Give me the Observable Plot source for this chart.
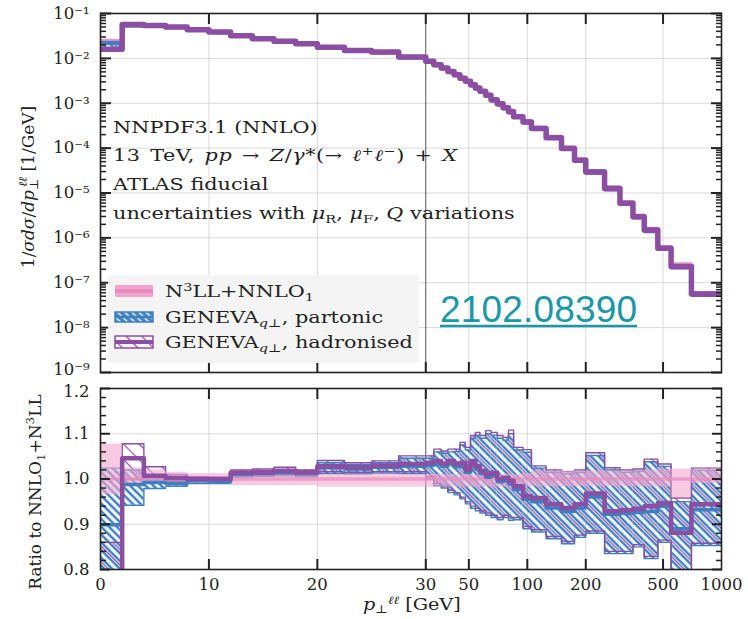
<!DOCTYPE html>
<html><head><meta charset="utf-8">
<script src="https://cdn.jsdelivr.net/npm/d3@7"></script>
<script src="https://cdn.jsdelivr.net/npm/@observablehq/plot@0.6"></script>
<style>
body{margin:0;background:#fff;}
#wrap{position:relative;width:748px;height:619px;overflow:hidden;background:#fff}
#wrap > svg{position:absolute;left:0;}
</style></head><body><div id="wrap"></div>
<script>
// ---------------- data ----------------
const edges = [0,2,4,6,8,10,12,14,16,18,20,22.5,25,27.5,30,33,36,39,42,45,48,51,54,57,61,65,70,75,80,85,95,105,125,150,175,200,250,300,350,400,470,550,700,1000];
// 1/sigma dsigma/dpT (GENEVA hadronised, top panel)
const dist = [0.016,0.057,0.054,0.050,0.0435,0.0385,0.032,0.0274,0.024,0.0212,0.0178,0.0150,0.0138,0.0107,
  0.00858,0.0072,0.0061,0.0051,0.0043,0.0036,0.0031,0.0026,0.0022,0.00185,0.0015,0.0012,0.00097,0.00079,0.00065,
  0.0005,0.00038,0.000275,0.00017,0.000098,0.000054,0.0000295,0.0000126,0.0000059,0.00000295,0.0000015,0.00000059,0.00000023,0.000000056];
// ratio to N3LL+NNLO1 : hadronised
const purC  = [0.65,1.046,1.007,1.002,1.0,1.0,1.014,1.015,1.018,1.015,1.028,1.026,1.03,1.033,
  1.036,1.04,1.034,1.04,1.033,1.036,1.021,1.04,1.029,1.018,1.01,1.014,1.0,1.003,0.996,0.984,0.962,
  0.958,0.944,0.936,0.944,0.968,0.929,0.931,0.934,0.94,0.947,0.881,0.944];
const purLo = [0.6,1.0,0.995,0.995,0.996,0.995,1.008,1.008,1.01,1.008,1.016,1.015,1.016,1.016,
  1.005,0.99,0.985,0.975,0.97,0.96,0.95,0.94,0.935,0.93,0.925,0.92,0.915,0.92,0.914,0.915,0.895,
  0.888,0.873,0.862,0.876,0.885,0.84,0.84,0.855,0.829,0.865,0.79,0.858];
const purHi = [0.86,1.078,1.027,1.01,1.005,1.004,1.02,1.022,1.026,1.02,1.041,1.036,1.04,1.051,
  1.051,1.066,1.062,1.066,1.066,1.081,1.07,1.096,1.103,1.096,1.107,1.103,1.096,1.092,1.108,1.07,1.065,
  1.029,1.02,1.016,1.02,1.058,1.025,1.02,1.022,1.044,1.033,0.958,1.024];
// ratio : partonic
const blueC  = [0.899,0.988,0.992,0.99,0.996,0.994,1.01,1.012,1.014,1.012,1.025,1.022,1.026,1.028,
  1.03,1.033,1.028,1.033,1.027,1.03,1.015,1.033,1.022,1.012,1.004,1.007,0.994,0.996,0.989,0.977,0.955,
  0.95,0.936,0.928,0.936,0.96,0.922,0.924,0.926,0.928,0.94,0.89,0.932];
const blueLo = [0.6,0.942,0.979,0.984,0.99,0.99,1.004,1.006,1.007,1.005,1.012,1.011,1.013,1.012,
  1.0,0.985,0.98,0.97,0.965,0.956,0.945,0.935,0.93,0.925,0.92,0.915,0.91,0.915,0.909,0.91,0.89,
  0.883,0.868,0.857,0.871,0.88,0.835,0.835,0.85,0.824,0.86,0.79,0.853];
const blueHi = [1.024,1.02,1.0,0.996,1.0,0.999,1.016,1.018,1.02,1.018,1.036,1.032,1.036,1.046,
  1.046,1.06,1.057,1.06,1.061,1.075,1.064,1.09,1.097,1.09,1.1,1.097,1.09,1.086,1.1,1.064,1.059,
  1.024,1.015,1.011,1.015,1.052,1.02,1.015,1.017,1.038,1.028,0.95,1.019];
// ratio : N3LL+NNLO1 band
const pinkLo = [0.965,0.99,0.99,0.99,0.99,0.99,0.985,0.985,0.985,0.985,0.982,0.982,0.982,0.982,
  0.982,0.982,0.982,0.982,0.982,0.982,0.982,0.982,0.982,0.982,0.982,0.982,0.982,0.982,0.982,0.982,0.982,
  0.983,0.983,0.983,0.983,0.983,0.983,0.983,0.983,0.983,0.982,0.958,0.99];
const pinkHi = [1.077,1.025,1.02,1.015,1.012,1.012,1.012,1.012,1.012,1.012,1.01,1.01,1.01,1.01,
  1.01,1.01,1.01,1.01,1.01,1.01,1.01,1.01,1.01,1.01,1.01,1.01,1.01,1.01,1.01,1.01,1.012,
  1.018,1.018,1.018,1.018,1.018,1.018,1.018,1.018,1.02,1.022,1.022,1.022];

const xTickVals = [0,10,20,30,50,100,200,500,1000];
const xTickLabels = ["0","10","20","30","50","100","200","500","1000"];
const yExps = [-9,-8,-7,-6,-5,-4,-3,-2,-1];
const yTickLabels = ["10⁻⁹","10⁻⁸","10⁻⁷","10⁻⁶","10⁻⁵","10⁻⁴","10⁻³","10⁻²","10⁻¹"];
const rTickVals = [0.8,0.9,1.0,1.1,1.2];
const rTickLabels = ["0.8","0.9","1.0","1.1","1.2"];

// ---------------- styles ----------------
const PURPLE = "#8c4ea3", BLUE = "#3d7fbf", PINK = "#f2a6cf", PINKD = "#e98bbf";
const FRAME = "#222", GRID = "#d9d9d9";
const FONT = "DejaVu Serif";

// piecewise x: linear 0-30, log 30-1000
const K = 17.91;
const U = p => p <= 30 ? p : 30 + K * Math.log10(p / 30);
const UMAX = U(1000);

const bins = dist.map((v, i) => ({lo: edges[i], hi: edges[i+1], v,
  pc: purC[i], pl: purLo[i], ph: purHi[i], bc: blueC[i], bl: blueLo[i], bh: blueHi[i], kl: pinkLo[i], kh: pinkHi[i]}));
bins.forEach(d => d.ref = d.v / d.pc);
function steps(acc) {
  const pts = bins.map(d => ({x: U(d.lo), y: acc(d)}));
  pts.push({x: U(edges[edges.length - 1]), y: acc(bins[bins.length - 1])});
  return pts;
}
const decades = yExps.map(e => Math.pow(10, e));
const yLab = new Map(decades.map((d, i) => [d, yTickLabels[i]]));
const minorY = [];
yExps.slice(0, -1).forEach(e => { for (let m = 2; m <= 9; m++) minorY.push(m * Math.pow(10, e)); });
const xInner = xTickVals.slice(1, -1).map(U);
const xGrid = [10, 20, 50, 100, 200, 500].map(U);
const xLab = new Map(xTickVals.map((v, i) => [U(v), xTickLabels[i]]));
const rMinor = d3.range(0.82, 1.2, 0.02).filter(v => Math.abs(v*10 - Math.round(v*10)) > 0.01);
const rLab = new Map(rTickVals.map((v, i) => [v, rTickLabels[i]]));

const wrap = document.getElementById("wrap");

// overlay svg with pattern defs
const ov = d3.create("svg").attr("width", 748).attr("height", 619).style("top", "0px")
  .style("pointer-events", "none").attr("font-family", FONT).attr("fill", "#222");
const defs = ov.append("defs");
function hatch(id, color, size, w, bg) {
  const p = defs.append("pattern").attr("id", id).attr("patternUnits", "userSpaceOnUse")
    .attr("width", size).attr("height", size).attr("patternTransform", "rotate(-45)");
  if (bg) p.append("rect").attr("width", size).attr("height", size).attr("fill", bg);
  p.append("line").attr("x1", size / 2).attr("y1", 0).attr("x2", size / 2).attr("y2", size)
    .attr("stroke", color).attr("stroke-width", w);
}
hatch("hatchBlue", BLUE, 5.5, 2.5);
hatch("hatchPurple", PURPLE, 11, 1.2);
hatch("hatchWhite", "#fff", 5, 1.5, BLUE);

const common = {fontFamily: FONT, fontSize: "17px", color: "#222", background: "transparent", overflow: "visible"};
const tk = {stroke: FRAME, strokeWidth: 2, label: null, tickFormat: () => ""};
const lab = {label: null};

function bandMarks(sy, wP, wB) {
  const X = {x1: d => U(d.lo), x2: d => U(d.hi)};
  const st = (acc, stroke, w, extra = {}) => Plot.line(steps(acc), {x: "x", y: "y", curve: "step-after", stroke, strokeWidth: w, clip: true, ...extra});
  return [
    Plot.rect(bins, {...X, y1: d => sy(d, d.bl), y2: d => sy(d, d.bh), fill: "url(#hatchBlue)", clip: true}),
    Plot.rect(bins, {...X, y1: d => sy(d, d.pl), y2: d => sy(d, d.ph), fill: "url(#hatchPurple)", clip: true}),
    st(d => sy(d, d.bl), BLUE, 1.4), st(d => sy(d, d.bh), BLUE, 1.4),
    st(d => sy(d, d.pl), PURPLE, 1.4), st(d => sy(d, d.ph), PURPLE, 1.4),
    Plot.rect(bins, {...X, y1: d => sy(d, d.kl), y2: d => sy(d, d.kh), fill: PINK, fillOpacity: 0.6, clip: true}),
    st(d => sy(d, 1), PINKD, wB, {strokeOpacity: 0.7}),
    st(d => sy(d, d.bc), BLUE, wB),
    st(d => sy(d, d.pc), PURPLE, wP)
  ];
}

function serifTicks(svg) {
  d3.select(svg).selectAll("text")
    .style("font-family", "'DejaVu Serif'", "important")
    .style("font-size", "16.5px", "important")
    .style("fill", "#222");
}

// ---------------- top panel ----------------
const topPlot = Plot.plot({
  width: 748, height: 385, marginLeft: 100, marginRight: 27, marginTop: 13, marginBottom: 13,
  x: {domain: [0, UMAX], axis: null},
  y: {type: "log", domain: [1e-9, 1e-1], axis: null},
  style: common,
  marks: [
    Plot.ruleY(decades, {stroke: GRID}),
    Plot.ruleX(xGrid, {stroke: GRID}),
    Plot.ruleX([U(30)], {stroke: "#555"}),
    ...bandMarks((d, r) => d.ref * r, 5.5, 4),
    Plot.axisY(decades.slice(1), {anchor: "left", tickSize: 0, tickPadding: 11, ...lab, tickFormat: d => yLab.get(d)}),
    Plot.axisY(decades.slice(0, 1), {anchor: "left", tickSize: 0, tickPadding: 11, dy: -3, ...lab, tickFormat: d => yLab.get(d)}),
    Plot.axisY(decades, {anchor: "left", tickSize: -11, ...tk}),
    Plot.axisY(minorY, {anchor: "left", tickSize: -6, ...tk, strokeWidth: 1.5}),
    Plot.axisY(decades, {anchor: "right", tickSize: -11, ...tk}),
    Plot.axisY(minorY, {anchor: "right", tickSize: -6, ...tk, strokeWidth: 1.5}),
    Plot.axisX(xInner, {anchor: "top", tickSize: -10, ...tk}),
    Plot.axisX(xInner, {anchor: "bottom", tickSize: -10, ...tk}),
    Plot.frame({stroke: FRAME, strokeWidth: 1.6})
  ]
});
topPlot.style.top = "0px";
serifTicks(topPlot);
wrap.appendChild(topPlot);

// ---------------- ratio panel ----------------
const botPlot = Plot.plot({
  width: 748, height: 244, marginLeft: 100, marginRight: 27, marginTop: 13, marginBottom: 50,
  x: {domain: [0, UMAX], axis: null},
  y: {domain: [0.8, 1.2], axis: null},
  style: common,
  marks: [
    Plot.ruleY([0.9, 1.0, 1.1], {stroke: GRID}),
    Plot.ruleX(xGrid, {stroke: GRID}),
    Plot.ruleX([U(30)], {stroke: "#555"}),
    ...bandMarks((d, r) => r, 4.5, 3.5),
    Plot.axisY(rTickVals.slice(0, -1), {anchor: "left", tickSize: 0, tickPadding: 11, ...lab, tickFormat: d => rLab.get(d)}),
    Plot.axisY(rTickVals.slice(-1), {anchor: "left", tickSize: 0, tickPadding: 11, dy: 3, ...lab, tickFormat: d => rLab.get(d)}),
    Plot.axisY(rTickVals, {anchor: "left", tickSize: -10, ...tk}),
    Plot.axisY(rMinor, {anchor: "left", tickSize: -6, ...tk, strokeWidth: 1.5}),
    Plot.axisY(rTickVals, {anchor: "right", tickSize: -10, ...tk}),
    Plot.axisY(rMinor, {anchor: "right", tickSize: -6, ...tk, strokeWidth: 1.5}),
    Plot.axisX(xInner, {anchor: "top", tickSize: -10, ...tk}),
    Plot.axisX(xInner, {anchor: "bottom", tickSize: -10, ...tk}),
    Plot.axisX(xTickVals.map(U), {anchor: "bottom", tickSize: 0, tickPadding: 9, ...lab, tickFormat: d => xLab.get(d)}),
    Plot.frame({stroke: FRAME, strokeWidth: 1.6})
  ]
});
botPlot.style.top = "375px";
serifTicks(botPlot);
wrap.appendChild(botPlot);

// ---------------- overlay: annotations, legend, titles ----------------
function rich(g, parts, size, supK = 0.4, subK = 0.25) {
  const t = g.append("text").attr("font-size", size);
  let shift = 0;
  for (const [s, st, dx] of parts) {
    const ts = t.append("tspan").text(s);
    let target = 0, fs = null;
    if (st.includes("sup")) { target = -supK * size; fs = 0.7 * size; }
    if (st.includes("sub")) { target = subK * size; fs = 0.7 * size; }
    if (target - shift) ts.attr("dy", target - shift);
    shift = target;
    if (dx) ts.attr("dx", dx);
    if (fs) ts.attr("font-size", fs);
    if (st.startsWith("i")) ts.attr("font-style", "italic");
  }
  return t;
}
const SX = 1.3;
const annot = [
  [["NNPDF3.1 (NNLO)", ""]],
  [["13 TeV, ", ""], ["pp", "i"], [" → ", ""], ["Z", "i"], ["/", ""], ["γ", "i"], ["*(→ ", ""], ["ℓ", "i"], ["+", "sup"], ["ℓ", "i"], ["−", "sup"], [") + ", ""], ["X", "i"]],
  [["ATLAS fiducial", ""]],
  [["uncertainties with ", ""], ["μ", "i"], ["R", "sub"], [", ", ""], ["μ", "i"], ["F", "sub"], [", ", ""], ["Q", "i"], [" variations", ""]]
];
const annotY = [132.5, 161, 190, 218.5];
annot.forEach((parts, i) => {
  const t = rich(ov.append("g").attr("transform", `translate(113,${annotY[i]}) scale(${SX},1)`), parts, 16);
  if (i === 1) t.attr("word-spacing", 2).attr("letter-spacing", 0.4);
});

// legend
ov.append("rect").attr("x", 108).attr("y", 275).attr("width", 311).attr("height", 88).attr("fill", "#f3f3f3").attr("fill-opacity", 0.92);
const legY = [291, 317, 342];
ov.append("rect").attr("x", 115).attr("y", legY[0] - 6).attr("width", 38).attr("height", 12).attr("fill", PINK).attr("rx", 1);
ov.append("line").attr("x1", 115).attr("x2", 153).attr("y1", legY[0]).attr("y2", legY[0]).attr("stroke", PINKD).attr("stroke-width", 4);
ov.append("rect").attr("x", 115).attr("y", legY[1] - 5).attr("width", 38).attr("height", 10).attr("fill", "url(#hatchWhite)").attr("stroke", BLUE).attr("stroke-width", 1.5);
ov.append("line").attr("x1", 115).attr("x2", 153).attr("y1", legY[1]).attr("y2", legY[1]).attr("stroke", BLUE).attr("stroke-width", 2.5);
ov.append("rect").attr("x", 115).attr("y", legY[2] - 6).attr("width", 38).attr("height", 12).attr("fill", "url(#hatchPurple)").attr("stroke", PURPLE).attr("stroke-width", 1.5);
ov.append("line").attr("x1", 115).attr("x2", 153).attr("y1", legY[2]).attr("y2", legY[2]).attr("stroke", PURPLE).attr("stroke-width", 4);
const legText = [
  [["N", ""], ["3", "sup"], ["LL+NNLO", ""], ["1", "sub"]],
  [["GENEVA", ""], ["q⊥", "isub"], [", partonic", ""]],
  [["GENEVA", ""], ["q⊥", "isub"], [", hadronised", ""]]
];
legText.forEach((parts, i) => rich(ov.append("g").attr("transform", `translate(165,${legY[i] + 6}) scale(${SX},1)`), parts, 16));

// arXiv id
ov.append("text").attr("x", 440).attr("y", 322).attr("font-family", "Liberation Sans, Arial, sans-serif")
  .attr("font-size", 37).attr("fill", "#1a97a8").attr("textLength", 197).text("2102.08390");
ov.append("line").attr("x1", 440).attr("x2", 637).attr("y1", 326).attr("y2", 326).attr("stroke", "#1a97a8").attr("stroke-width", 2.5);

// axis titles
rich(ov.append("g").attr("transform", "translate(363,610) scale(1.2,1)"),
  [["p", "i"], ["⊥", "sub"], ["ℓℓ", "isup"], [" [GeV]", ""]], 16, 0.35, 0.18);
const yt = rich(ov.append("g").attr("transform", "translate(34,187) rotate(-90)"),
  [["1/", ""], ["σdσ", "i"], ["/", ""], ["dp", "i"], ["⊥", "sub"], ["ℓℓ", "isup", -8], [" [1/GeV]", ""]], 17);
yt.attr("text-anchor", "middle");
const rt = rich(ov.append("g").attr("transform", "translate(41,492) rotate(-90)"),
  [["Ratio to NNLO", ""], ["1", "sub"], ["+N", ""], ["3", "sup"], ["LL", ""]], 17);
rt.attr("text-anchor", "middle");

wrap.appendChild(ov.node());
</script></body></html>
